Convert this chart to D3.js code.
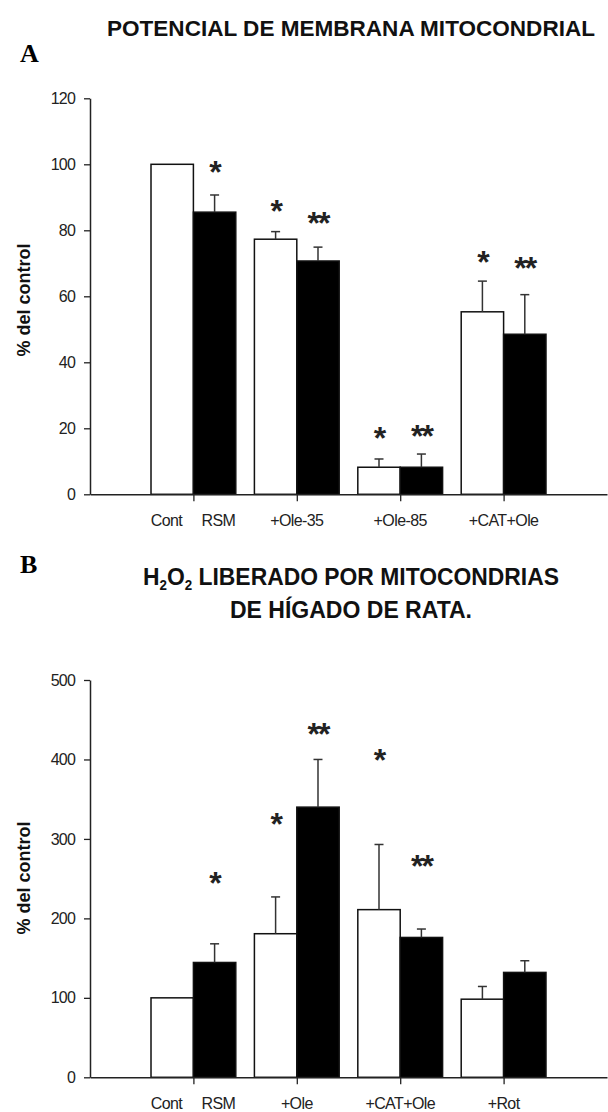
<!DOCTYPE html>
<html>
<head>
<meta charset="utf-8">
<script src="https://cdn.jsdelivr.net/npm/d3@7"></script>
<style>
  body { margin: 0; background: #fff; }
  svg { display: block; }
</style>
</head>
<body>
<svg id="chart" width="608" height="1112"></svg>
<script>
// Panel A - potencial de membrana (% del control)
const labelsA = [["Cont", "RSM"], ["+Ole-35"], ["+Ole-85"], ["+CAT+Ole"]];
const whiteA = [100, 77.3, 8.2, 55.3];
const whiteErrA = [0, 2.3, 2.5, 9.3];
const blackA = [85.5, 70.7, 8.2, 48.5];
const blackErrA = [5.2, 4.2, 4.0, 12.0];
const whiteMarkA = ["", "*", "*", "*"];
const blackMarkA = ["*", "**", "**", "**"];
const whiteMarkYA = [null, 88.4, 19.5, 72.7];
const blackMarkYA = [100, 84.6, 20.2, 70.9];
const ticksA = [0, 20, 40, 60, 80, 100, 120];

// Panel B - H2O2 liberado (% del control)
const labelsB = [["Cont", "RSM"], ["+Ole"], ["+CAT+Ole"], ["+Rot"]];
const whiteB = [100, 180.7, 211, 98.3];
const whiteErrB = [0, 46.3, 82, 16];
const blackB = [144.5, 340, 176, 132];
const blackErrB = [23.5, 60, 10.6, 14.7];
const whiteMarkB = ["", "*", "*", ""];
const blackMarkB = ["*", "**", "**", ""];
const whiteMarkYB = [null, 328.6, 409, null];
const blackMarkYB = [255, 442, 276, null];
const ticksB = [0, 100, 200, 300, 400, 500];

const svg = d3.select("#chart");
const sans = "'Liberation Sans', Arial, sans-serif";

// x: one unit per group, groups sit at 1..4, axis runs to 5
const x = d3.scaleLinear().domain([0, 5]).range([90, 607]);
const barW = 0.41;

function drawPanel(p) {
  const y = d3.scaleLinear().domain([0, p.max]).range([p.y0, p.y1]);
  const g = svg.append("g");

  // y axis
  const yAxis = g.append("g")
    .attr("transform", "translate(90,0)")
    .call(d3.axisLeft(y).tickValues(p.ticks).tickSize(6).tickSizeOuter(0).tickPadding(9));
  yAxis.select(".domain").attr("stroke", "#222").attr("stroke-width", 1.5);
  yAxis.selectAll(".tick line").attr("stroke", "#222").attr("stroke-width", 1.3);
  yAxis.selectAll(".tick text")
    .attr("font-family", sans).attr("font-size", 16).attr("fill", "#222")
    .attr("letter-spacing", -0.8);

  // bars
  const idx = d3.range(p.white.length);
  g.selectAll(".w").data(idx).join("rect")
    .attr("x", i => x(i + 1 - barW))
    .attr("width", x(barW) - x(0))
    .attr("y", i => y(p.white[i]))
    .attr("height", i => y(0) - y(p.white[i]))
    .attr("fill", "#fff").attr("stroke", "#111").attr("stroke-width", 1.5);
  g.selectAll(".b").data(idx).join("rect")
    .attr("x", i => x(i + 1))
    .attr("width", x(barW) - x(0))
    .attr("y", i => y(p.black[i]))
    .attr("height", i => y(0) - y(p.black[i]))
    .attr("fill", "#000").attr("stroke", "#111").attr("stroke-width", 1.5);

  // error bars (upper only)
  const errs = [];
  idx.forEach(i => {
    if (p.whiteErr[i] > 0) errs.push({ cx: i + 1 - barW / 2, v: p.white[i], e: p.whiteErr[i] });
    if (p.blackErr[i] > 0) errs.push({ cx: i + 1 + barW / 2, v: p.black[i], e: p.blackErr[i] });
  });
  g.selectAll(".err").data(errs).join("line")
    .attr("x1", d => x(d.cx)).attr("x2", d => x(d.cx))
    .attr("y1", d => y(d.v)).attr("y2", d => y(d.v + d.e))
    .attr("stroke", "#333").attr("stroke-width", 1.5);
  g.selectAll(".cap").data(errs).join("line")
    .attr("x1", d => x(d.cx) - 4.5).attr("x2", d => x(d.cx) + 4.5)
    .attr("y1", d => y(d.v + d.e)).attr("y2", d => y(d.v + d.e))
    .attr("stroke", "#333").attr("stroke-width", 1.5);

  // significance marks
  const marks = [];
  idx.forEach(i => {
    if (p.whiteMark[i]) marks.push({ cx: i + 1 - barW / 2, t: p.whiteMark[i], v: p.whiteMarkY[i] });
    if (p.blackMark[i]) marks.push({ cx: i + 1 + barW / 2, t: p.blackMark[i], v: p.blackMarkY[i] });
  });
  g.selectAll(".mark").data(marks).join("text")
    .attr("x", d => x(d.cx))
    .attr("y", d => y(d.v) + 19)
    .attr("text-anchor", "middle")
    .attr("font-family", sans).attr("font-weight", "bold").attr("font-size", 32)
    .attr("letter-spacing", -2)
    .attr("fill", "#222")
    .text(d => d.t);

  // x axis
  const xAxis = g.append("g")
    .attr("transform", `translate(0,${p.y0})`)
    .call(d3.axisBottom(x).tickValues([1, 2, 3, 4]).tickSize(7).tickSizeOuter(0).tickFormat(""));
  xAxis.select(".domain").attr("stroke", "#222").attr("stroke-width", 1.5);
  xAxis.selectAll(".tick line").attr("stroke", "#222").attr("stroke-width", 1.3);

  // category labels
  const labs = [];
  p.labels.forEach((l, i) => {
    if (l.length === 2) {
      labs.push({ px: x(i + 1) - 27, t: l[0] });
      labs.push({ px: x(i + 1) + 25, t: l[1] });
    } else {
      labs.push({ px: x(i + 1), t: l[0] });
    }
  });
  g.selectAll(".lab").data(labs).join("text")
    .attr("x", d => d.px).attr("y", p.y0 + 32)
    .attr("text-anchor", "middle")
    .attr("font-family", sans).attr("font-size", 16).attr("fill", "#222")
    .attr("letter-spacing", -0.6)
    .text(d => d.t);

  // y axis title
  g.append("text")
    .attr("transform", `translate(30,${p.labelY}) rotate(-90)`)
    .attr("text-anchor", "middle")
    .attr("font-family", sans).attr("font-weight", "bold").attr("font-size", 18)
    .attr("fill", "#111")
    .text("% del control");
}

drawPanel({ max: 120, y0: 494.3, y1: 98.3, ticks: ticksA, labels: labelsA,
  white: whiteA, whiteErr: whiteErrA, black: blackA, blackErr: blackErrA,
  whiteMark: whiteMarkA, blackMark: blackMarkA, whiteMarkY: whiteMarkYA, blackMarkY: blackMarkYA,
  labelY: 300 });

drawPanel({ max: 500, y0: 1077.3, y1: 680, ticks: ticksB, labels: labelsB,
  white: whiteB, whiteErr: whiteErrB, black: blackB, blackErr: blackErrB,
  whiteMark: whiteMarkB, blackMark: blackMarkB, whiteMarkY: whiteMarkYB, blackMarkY: blackMarkYB,
  labelY: 878 });

// panel letters
svg.append("text").attr("x", 20).attr("y", 62)
  .attr("font-family", "'Liberation Serif', 'Times New Roman', serif")
  .attr("font-weight", "bold").attr("font-size", 26).text("A");
svg.append("text").attr("x", 20).attr("y", 573)
  .attr("font-family", "'Liberation Serif', 'Times New Roman', serif")
  .attr("font-weight", "bold").attr("font-size", 26).text("B");

// titles
function title(xc, yb, width, size, build) {
  const t = svg.append("text")
    .attr("x", xc - width / 2).attr("y", yb)
    .attr("font-family", sans).attr("font-weight", "bold").attr("font-size", size)
    .attr("fill", "#111")
    .attr("textLength", width).attr("lengthAdjust", "spacingAndGlyphs");
  build(t);
}
title(351, 36, 488, 22.4, t => t.text("POTENCIAL DE MEMBRANA MITOCONDRIAL"));
title(351, 585, 416, 24, t => {
  t.append("tspan").text("H");
  t.append("tspan").attr("font-size", 14).attr("dy", 5).text("2");
  t.append("tspan").attr("dy", -5).text("O");
  t.append("tspan").attr("font-size", 14).attr("dy", 5).text("2");
  t.append("tspan").attr("dy", -5).text(" LIBERADO POR MITOCONDRIAS");
});
title(351, 618, 242, 24, t => t.text("DE HÍGADO DE RATA."));
</script>
</body>
</html>
